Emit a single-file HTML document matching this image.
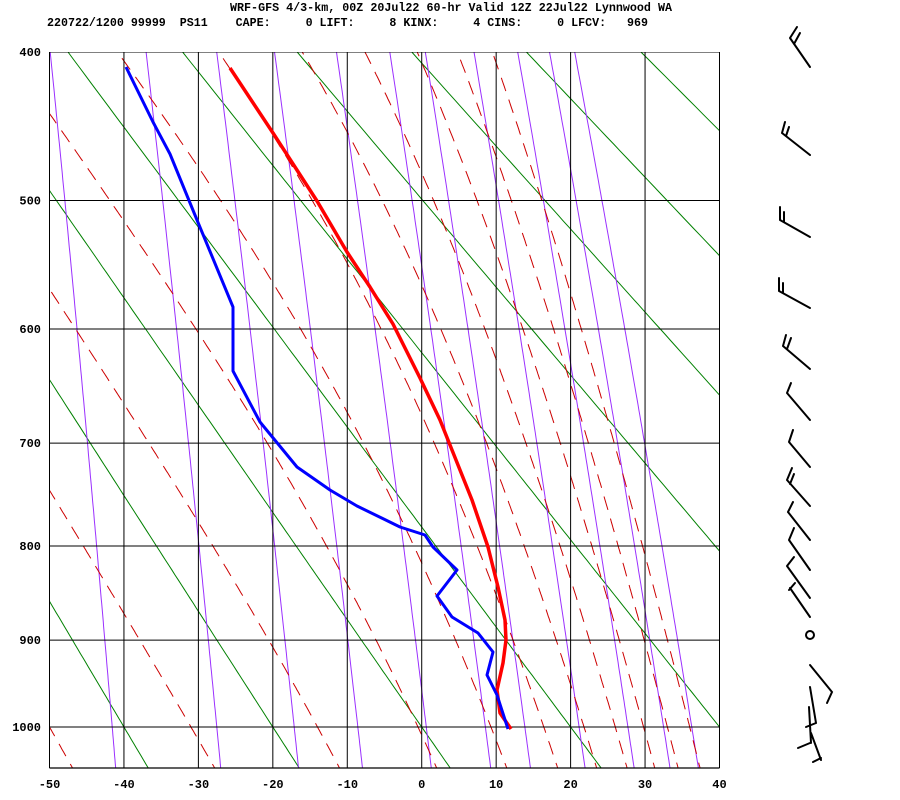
<!DOCTYPE html>
<html><head><meta charset="utf-8">
<style>
html,body{margin:0;padding:0;background:#fff;}
svg{display:block;}
text{font-family:"Liberation Mono",monospace;font-weight:bold;font-size:12px;fill:#000;}
</style></head>
<body>
<svg id="s" width="900" height="800" viewBox="0 0 900 800" xmlns="http://www.w3.org/2000/svg">
<defs><clipPath id="c"><rect x="49.5" y="52" width="670" height="716"/></clipPath></defs>
<rect width="900" height="800" fill="#fff"/>
<text x="230" y="11" textLength="442" lengthAdjust="spacingAndGlyphs">WRF-GFS 4/3-km, 00Z 20Jul22 60-hr Valid 12Z 22Jul22 Lynnwood WA</text>
<text x="47" y="26" textLength="601" lengthAdjust="spacingAndGlyphs" xml:space="preserve">220722/1200 99999  PS11    CAPE:     0 LIFT:     8 KINX:     4 CINS:     0 LFCV:   969</text>
<g id="grid" clip-path="url(#c)"></g>
<g id="lab"></g>
<g id="snd" clip-path="url(#c)"></g>
<g id="wind" stroke="#000" stroke-width="2" fill="none" stroke-linecap="round">
<path d="M810 67L790 38M790 38L797 27M794 44L800 33"/>
<path d="M810 155L782 133M782 133L785 122M786 136L789 127"/>
<path d="M810 237L780 220M780 220L780 207M784 222L784 212"/>
<path d="M810 308L779 291M779 291L779 278M783 293L783 283"/>
<path d="M810 369L783 346M783 346L786 335M787 349L791 338"/>
<path d="M810 420L787 393M787 393L791 383"/>
<path d="M810 467L789 442M789 442L793 430"/>
<path d="M810 506L787 480M787 480L792 468M790 484L794 474"/>
<path d="M810 540L788 512M788 512L793 502"/>
<path d="M810 570L789 540M789 540L794 528"/>
<path d="M810 598L787 566M787 566L794 557"/>
<path d="M810 617L790 588M789 590L795 583"/>
<circle cx="810" cy="635" r="4"/>
<path d="M810 665L832 692L827 703"/>
<path d="M810 687L816 723M809 707L811 743M806 727L816 723M798 748L810 743M811 733L821 760M813 762L821 758"/>
</g>
</svg>
<script>
(function(){
var NS="http://www.w3.org/2000/svg";
var k=0.2857,p0=Math.pow(400,k),B=675/(Math.pow(1000,k)-p0);
function X(T){return 49.5+(T+50)*7.4444;}
function Y(p){return 52+(Math.pow(p,k)-p0)*B;}
function el(par,tag,at){var e=document.createElementNS(NS,tag);for(var a in at)e.setAttribute(a,at[a]);par.appendChild(e);return e;}
var g=document.getElementById('grid'),lab=document.getElementById('lab'),snd=document.getElementById('snd');
function poly(par,pts,st){var d='';for(var i=0;i<pts.length;i++)d+=(i?'L':'M')+pts[i][0].toFixed(1)+' '+pts[i][1].toFixed(1);st.d=d;st.fill='none';el(par,'path',st);}
var ps=[];for(var p=390;p<=1060;p+=5)ps.push(p);
// dry adiabats
for(var th=-60;th<=200;th+=20){var pts=[];ps.forEach(function(p){var T=(th+273.15)*Math.pow(p/1000,0.2857)-273.15;pts.push([X(T),Y(p)]);});poly(g,pts,{stroke:'#008000','stroke-width':1});}
// mixing ratio
[0.1,0.4,1,2,4,7,10,16,24,32,40].forEach(function(w){w/=1000;var pts=[];ps.forEach(function(p){var es=w*p/(0.622+w);var l=Math.log(es/6.112);var T=243.5*l/(17.67-l);pts.push([X(T),Y(p)]);});poly(g,pts,{stroke:'#9b30ff','stroke-width':1});});
// moist adiabats
function rs(T,p){var es=6.112*Math.exp(17.67*T/(T+243.5));return 0.622*es/(p-es);}
function dTdp(T,p){var Tk=T+273.15,r=rs(T,p),Rd=287,cp=1005,L=2.5e6;return (Rd*Tk+L*r)/(p*(cp+L*L*r*0.622/(Rd*Tk*Tk)));}
[-50,-31,-14,-0.5,9.3,16.4,21.8,26,29.8,33,36].forEach(function(t0){
 var up=[],T=t0,p=1000,h=-2;
 while(p>=390){up.push([X(T),Y(p)]);T+=dTdp(T,p)*h;p+=h;}
 var dn=[];T=t0;p=1000;
 while(p<=1060){dn.push([X(T),Y(p)]);T+=dTdp(T,p)*2;p+=2;}
 poly(g,dn.reverse().concat(up),{stroke:'#cc0000','stroke-width':1,'stroke-dasharray':'14,9'});
});
// isotherms & isobars
for(var t=-50;t<=40;t+=10){el(g,'line',{x1:X(t),x2:X(t),y1:52,y2:768,stroke:'#000','stroke-width':1});
 var tx=el(lab,'text',{x:X(t),y:788,'text-anchor':'middle'});tx.textContent=t;}
[400,500,600,700,800,900,1000].forEach(function(p){var y=Y(p);el(g,'line',{x1:49.5,x2:719.5,y1:y,y2:y,stroke:'#000','stroke-width':1});
 var tx=el(lab,'text',{x:41,y:y+4,'text-anchor':'end'});tx.textContent=p;});
el(lab,'line',{x1:49.5,x2:719.5,y1:768,y2:768,stroke:'#000','stroke-width':1.2});
el(lab,'line',{x1:49.5,x2:49.5,y1:52,y2:768,stroke:'#000','stroke-width':1});
el(lab,'line',{x1:719.5,x2:719.5,y1:52,y2:768,stroke:'#000','stroke-width':1});
// sounding
var red=[[230,68],[273,133],[317,201],[347,252],[370,287],[393,324],[420,378],[440,420],[456,460],[472,500],[488,547],[498,587],[505,620],[506,640],[503,663],[497,690],[500,713],[511,729]];
var blue=[[126,67],[153,122],[170,154],[197,220],[233,307],[233,371],[260,422],[297,467],[330,490],[357,506],[400,527],[425,535],[433,547],[457,570],[437,596],[452,617],[478,633],[493,652],[487,675],[497,695],[508,729]];
poly(snd,red,{stroke:'#ff0000','stroke-width':3.5,'stroke-linejoin':'round'});
poly(snd,blue,{stroke:'#0000ff','stroke-width':3,'stroke-linejoin':'round'});
})();
</script>
</body></html>
